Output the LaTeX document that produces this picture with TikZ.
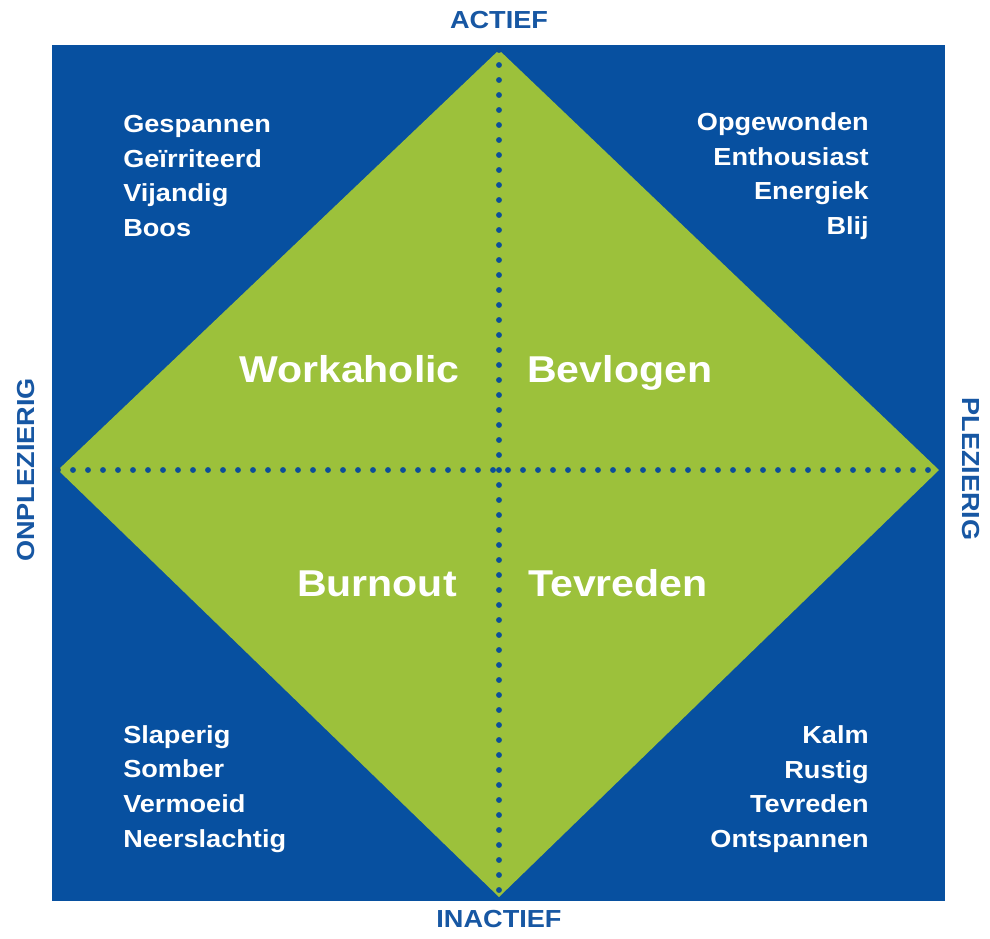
\documentclass[tikz,border=0pt]{standalone}
\usepackage{fontspec}
\setmainfont[FakeStretch=1.1]{Liberation Sans}
\definecolor{bgblue}{HTML}{0750A0}
\definecolor{lblblue}{HTML}{1757A3}
\definecolor{dgreen}{HTML}{9CC13B}
\definecolor{dotblue}{HTML}{0C4E98}
\begin{document}
\begin{tikzpicture}[x=0.75pt,y=-0.75pt,
  listtxt/.style={inner sep=0pt,text=white,font=\bfseries\fontsize{18.5}{26}\selectfont},
  bigtxt/.style={inner sep=0pt,text=white,font=\bfseries\fontsize{28}{32}\selectfont},
  axistxt/.style={inner sep=0pt,text=lblblue,font=\bfseries\fontsize{18.5}{22}\selectfont},
  dotline/.style={draw=dotblue,line width=4.4pt,line cap=round,dash pattern=on 0pt off 11.25pt}]
\useasboundingbox (0,0) rectangle (990,939);
\fill[bgblue] (52,45) rectangle (945,901);
\coordinate (T) at (499,50);
\coordinate (B) at (499,897);
\coordinate (L) at (58,470);
\coordinate (R) at (939,470);
\fill[dgreen] (T) -- (R) -- (B) -- (L) -- cycle;
\draw[dotline] (T) -- (B);
\draw[dotline] (L) -- (R);
% quadrant lists
\node[listtxt,anchor=west,align=left] (tl) at (123,176) {Gespannen\\Geïrriteerd\\Vijandig\\Boos};
\node[listtxt,anchor=east,align=right] (tr) at (869,176) {Opgewonden\\Enthousiast\\Energiek\\Blij};
\node[listtxt,anchor=west,align=left] (bl) at (123,789) {Slaperig\\Somber\\Vermoeid\\Neerslachtig};
\node[listtxt,anchor=east,align=right] (br) at (869,789) {Kalm\\Rustig\\Tevreden\\Ontspannen};
% big labels
\node[bigtxt,anchor=base east] (wk) at (460,382) {Workaholic};
\node[bigtxt,anchor=base west] (bv) at (527,382) {Bevlogen};
\node[bigtxt,anchor=base east] (bo) at (457,596) {Burnout};
\node[bigtxt,anchor=base west] (tv) at (528,596) {Tevreden};
% axis labels
\node[axistxt,anchor=base] (act) at (499,28) {ACTIEF};
\node[axistxt,anchor=base] (inact) at (499,927) {INACTIEF};
\node[axistxt,anchor=base,rotate=90] (onpl) at (35,470) {ONPLEZIERIG};
\node[axistxt,anchor=base,rotate=-90] (pl) at (962,469) {PLEZIERIG};
\end{tikzpicture}
\end{document}
